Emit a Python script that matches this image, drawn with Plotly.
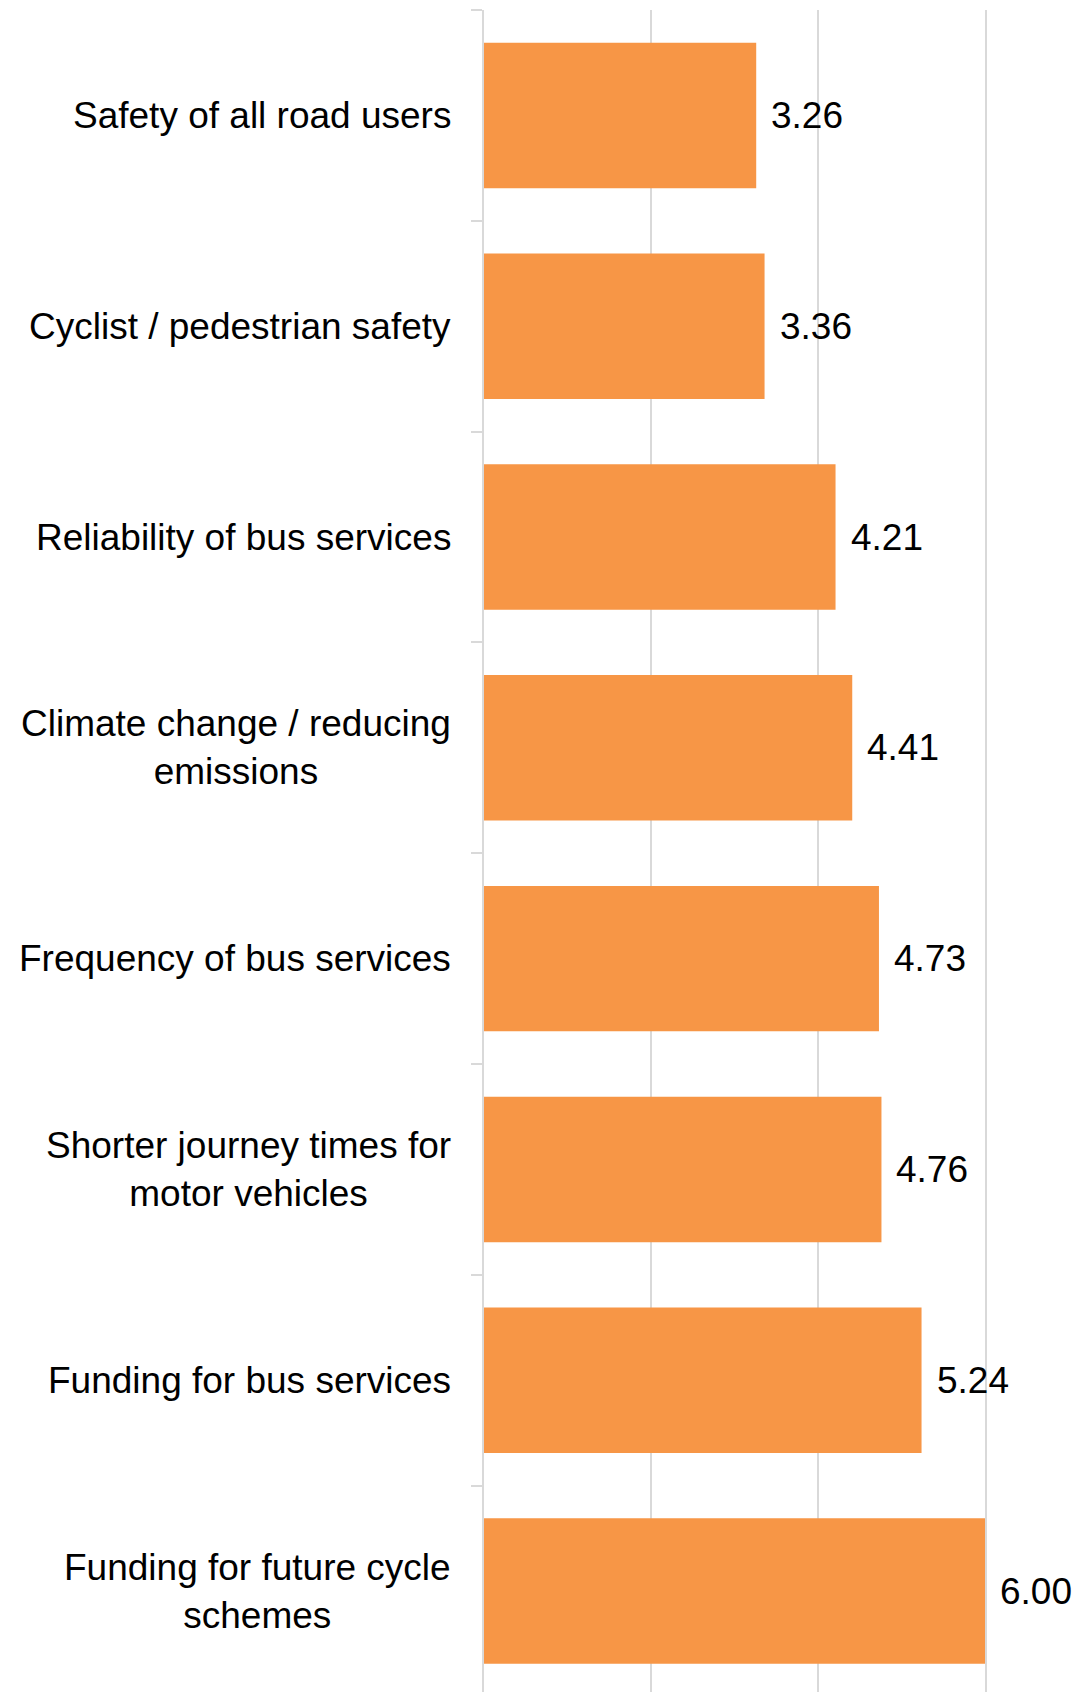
import plotly.graph_objects as go

categories = [
    "Safety of all road users",
    "Cyclist / pedestrian safety",
    "Reliability of bus services",
    "Climate change / reducing<br>emissions",
    "Frequency of bus services",
    "Shorter journey times for<br>motor vehicles",
    "Funding for bus services",
    "Funding for future cycle<br>schemes",
]
values = [3.26, 3.36, 4.21, 4.41, 4.73, 4.76, 5.24, 6.00]
value_labels = ["3.26", "3.36", "4.21", "4.41", "4.73", "4.76", "5.24", "6.00"]

FONT = "Liberation Sans, Arial, sans-serif"
GRID = "#d9d9d9"

fig = go.Figure(
    go.Bar(
        x=values,
        y=categories,
        orientation="h",
        marker=dict(color="#F79646", line=dict(width=0)),
        hoverinfo="skip",
    )
)

annotations = []
for cat, v, lab in zip(categories, values, value_labels):
    annotations.append(dict(
        x=v, y=cat, xref="x", yref="y", text=lab, showarrow=False,
        xanchor="left", yanchor="middle", xshift=13,
        font=dict(family=FONT, size=37, color="#000000"),
    ))
    annotations.append(dict(
        x=0, y=cat, xref="x", yref="y", text=cat, showarrow=False,
        xanchor="right", yanchor="middle", xshift=-31, align="center",
        font=dict(family=FONT, size=37, color="#000000"),
    ))

fig.update_layout(
    width=1078,
    height=1692,
    margin=dict(l=484, r=93, t=10, b=0),
    paper_bgcolor="white",
    plot_bgcolor="white",
    showlegend=False,
    bargap=0.31,
    annotations=annotations,
    xaxis=dict(
        range=[0, 6],
        dtick=2,
        tick0=0,
        showgrid=True,
        gridcolor=GRID,
        gridwidth=1.6,
        zeroline=False,
        showticklabels=False,
        ticks="",
        showline=False,
        fixedrange=True,
    ),
    yaxis=dict(
        range=[len(categories) - 0.521, -0.5],
        showline=True,
        mirror=True,
        linecolor=GRID,
        linewidth=1.8,
        ticks="outside",
        tickson="boundaries",
        ticklen=11,
        tickwidth=1.6,
        tickcolor=GRID,
        showticklabels=False,
        showgrid=False,
        fixedrange=True,
    ),
)

fig.write_html(
    "out.html",
    config={"displayModeBar": False},
    post_script="document.body.style.margin='0';document.body.style.overflow='hidden';",
)
